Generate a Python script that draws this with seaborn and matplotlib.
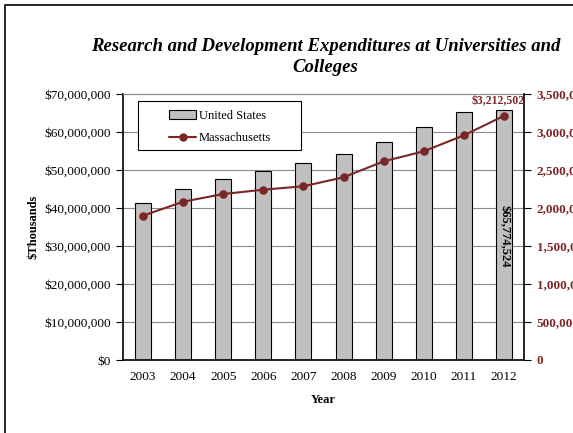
import pandas as pd
import seaborn as sns
import matplotlib.pyplot as plt
from matplotlib.patches import Rectangle, Patch
from matplotlib.lines import Line2D
from matplotlib.ticker import FuncFormatter, MultipleLocator

# values ($ thousands)
years = ['2003', '2004', '2005', '2006', '2007', '2008', '2009', '2010', '2011', '2012']
us_spend = [41400000, 45000000, 47600000, 49700000, 51800000,
            54300000, 57400000, 61300000, 65300000, 65774524]
ma_spend = [1899000, 2083000, 2184000, 2241000, 2286000,
            2404000, 2614000, 2746000, 2956000, 3212502]

df = pd.DataFrame({'Year': years, 'US': us_spend, 'MA': ma_spend})

red = '#7B2626'
sns.set_style('white')
plt.rcParams['font.family'] = ['Liberation Serif', 'DejaVu Serif']
plt.rcParams.update({'text.color': 'black', 'axes.labelcolor': 'black',
                     'xtick.color': 'black', 'ytick.color': 'black'})

fig = plt.figure(figsize=(5.73, 4.33), dpi=100)
ax = fig.add_axes([123 / 573, 1 - 360 / 433, 401 / 573, 266 / 433])

# outer chart frame (cut off at the right and bottom like the reference)
fig.patches.append(Rectangle((5 / 573, -0.1), 1.2, (428 / 433) + 0.1, transform=fig.transFigure,
                             fill=False, edgecolor='black', linewidth=1.2))

sns.barplot(data=df, x='Year', y='US', ax=ax, color='#C0C0C0', edgecolor='black',
            linewidth=0.8, width=0.4, saturation=1, zorder=2)
ax.set_ylim(0, 70000000)
ax.set_xlim(-0.5, 9.5)
ax.yaxis.set_major_locator(MultipleLocator(10000000))
ax.yaxis.set_major_formatter(FuncFormatter(lambda v, p: f'${v:,.0f}'))
ax.grid(axis='y', color='#8C8C8C', linewidth=0.8, zorder=0)
ax.set_axisbelow(True)

ax.set_xticks(range(10))
ax.set_xticklabels(years)
ax.set_xticks([i - 0.5 for i in range(11)], minor=True)
ax.tick_params(axis='x', which='major', length=0, labelsize=9.5, pad=8)
ax.tick_params(axis='x', which='minor', length=4, width=0.8, direction='out')
ax.tick_params(axis='y', length=5, width=0.8, direction='out', labelsize=9.5, left=True)

for side in ['left', 'bottom']:
    ax.spines[side].set_color('black')
    ax.spines[side].set_linewidth(1.2)
ax.spines['top'].set_color('#8C8C8C')
ax.spines['right'].set_visible(False)

ax.set_xlabel('Year', fontsize=9, fontweight='bold', labelpad=8)
ax.set_ylabel('$Thousands', fontsize=9, fontweight='bold', labelpad=4)

ax.text(9, 32500000, '$65,774,524', rotation=-90, ha='center', va='center',
        fontsize=9, fontweight='bold', color='black', zorder=5)

ax2 = ax.twinx()
sns.pointplot(data=df, x='Year', y='MA', ax=ax2, color=red, markers='o',
              linestyles='-', markersize=5, linewidth=1.5, zorder=4)
ax2.set_xlim(-0.5, 9.5)
ax2.set_ylim(0, 3500000)
ax2.yaxis.set_major_locator(MultipleLocator(500000))
ax2.yaxis.set_major_formatter(FuncFormatter(lambda v, p: f'{v:,.0f}'))
ax2.tick_params(axis='y', length=5, width=0.8, direction='out', labelsize=9.5,
                labelcolor=red, right=True, pad=4)
for lab in ax2.get_yticklabels():
    lab.set_fontweight('bold')
ax2.set_ylabel('')
ax2.set_xlabel('')
for side in ['left', 'top', 'bottom']:
    ax2.spines[side].set_visible(False)
ax2.spines['right'].set_color('black')
ax2.spines['right'].set_linewidth(1.2)

ax2.text(8.85, 3212502 + 110000, '$3,212,502', ha='center', va='bottom',
         fontsize=8.5, fontweight='bold', color=red)

# legend box drawn like the Excel one: wide frame, entries centred
ax2.add_patch(Rectangle((15 / 401, 210 / 266), 163 / 401, 49 / 266, transform=ax2.transAxes,
                        facecolor='white', edgecolor='black', linewidth=0.8, zorder=6))
handles = [Patch(facecolor='#C0C0C0', edgecolor='black', linewidth=0.8),
           Line2D([0], [0], color=red, marker='o', markersize=5, linewidth=1.5)]
leg = ax2.legend(handles, ['United States', 'Massachusetts'], loc='center',
                 bbox_to_anchor=(0.242, 0.876), frameon=False, fontsize=9,
                 labelspacing=0.8, handlelength=2.2, handletextpad=0.2)
leg.set_zorder(7)

fig.text(0.568, 1 - 57 / 433, 'Research and Development Expenditures at Universities and\nColleges',
         ha='center', va='center', fontsize=13.5, fontweight='bold', fontstyle='italic',
         linespacing=1.3)

plt.savefig('out.png', dpi=100)
